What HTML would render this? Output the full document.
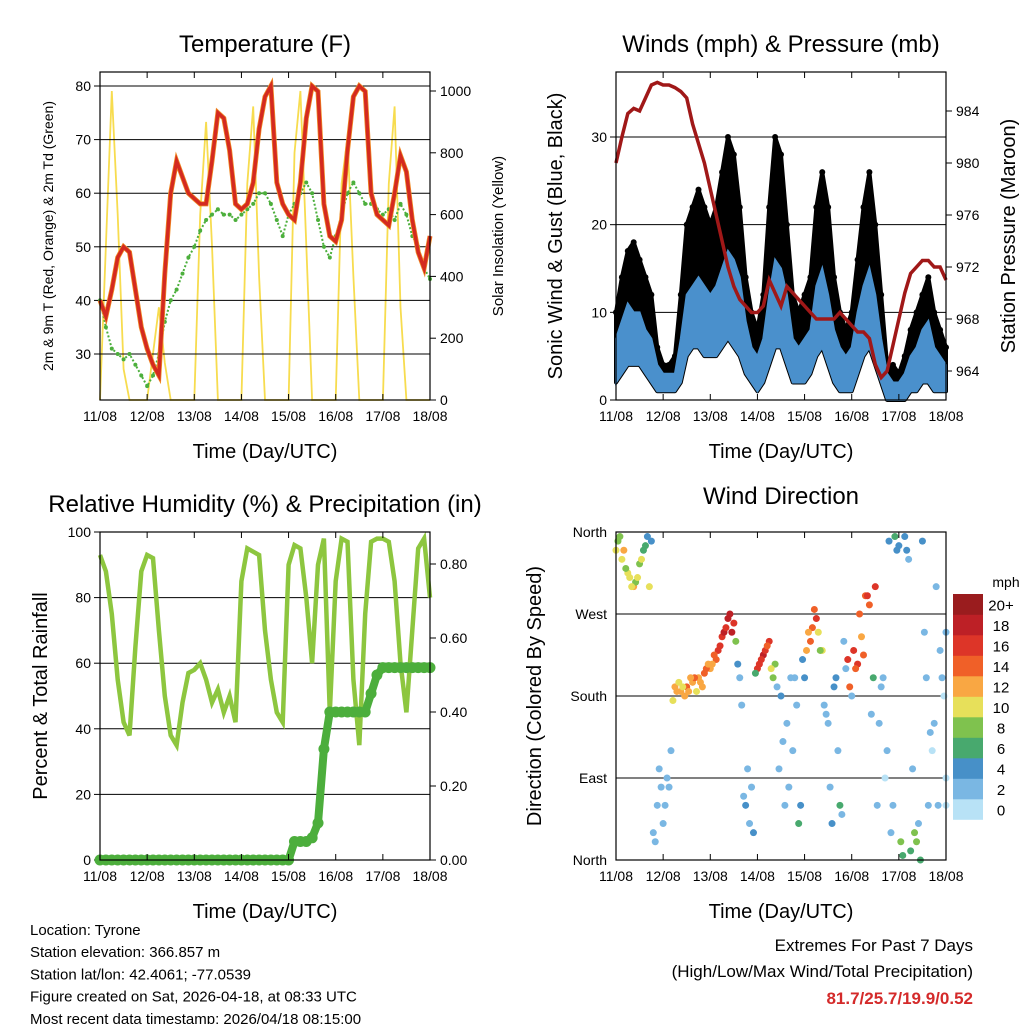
<!DOCTYPE html>
<html><head><meta charset="utf-8"><style>
body{margin:0;background:#fff}
svg{display:block;font-family:"Liberation Sans",sans-serif}
</style></head><body>
<svg id="s" width="1024" height="1024" viewBox="0 0 1024 1024" xmlns="http://www.w3.org/2000/svg"></svg>
<script>
// ---------- DATA (3-hourly, 11/08 00 UTC to 18/08 00 UTC) ----------
const dayLabels = ["11/08","12/08","13/08","14/08","15/08","16/08","17/08","18/08"];
const tempT = [40,37,42,48,50,49,42,35, 31,28,26,45,60,66,63,60, 59,58,58,66,75,74,68,58, 57,58,62,72,78,80,62,58, 56,55,62,74,80,79,58,52, 51,55,68,78,80,79,60,56, 55,54,60,67,64,55,49,46,52];
const tempTd = [40,35,31,30,29,30,28,26, 24,26,30,36,40,42,45,48, 50,53,55,56,57,56,56,55, 56,57,58,60,60,58,55,52, 56,58,60,62,60,55,50,48, 52,56,60,62,60,58,58,57, 56,57,55,58,56,52,50,46,44];
const solar = [0,500,1000,600,100,0,0,0, 0,150,300,120,0,0,0,0, 0,600,900,500,0,0,0,0, 0,700,950,400,0,0,0,0, 0,800,1000,500,0,0,0,0, 0,700,850,400,0,0,0,0, 0,700,950,300,0,0,0,0,0];
const tempTicks = [30,40,50,60,70,80];
const solarTicks = [0,200,400,600,800,1000];
const gustHi = [10,14,17,18,16,14,12,6, 4,4,5,12,20,22,24,22, 20,22,26,30,28,22,14,10, 8,12,22,30,28,20,12,10, 12,14,22,26,22,14,10,8, 10,16,22,26,20,12,4,4, 3,5,8,10,12,14,10,8,6];
const windHi = [7,9,11,10,10,8,7,4, 3,3,3,7,12,13,14,13, 12,13,15,17,16,14,9,6, 5,7,12,16,15,12,7,6, 7,8,13,15,12,8,6,5, 6,10,13,15,12,7,3,2, 2,3,5,6,8,9,6,5,4];
const windLo = [2,3,4,4,4,3,2,1, 1,1,1,2,5,6,6,5, 5,5,6,7,6,5,3,2, 1,2,4,6,6,4,2,2, 2,3,5,6,4,2,1,1, 1,3,5,6,4,2,0,0, 0,0,1,1,2,2,1,1,1];
const pressure = [980,982,983.8,984.2,984,985,986,986.2, 986,986,985.8,985.5,985,983,981.5,980, 978,976,974,972,970.5,969.5,969,968.5, 968.5,969,971,970,969,970.5,970,969.5, 969,968.5,968,968,968,968,968.5,968, 967.5,967,967,966.5,964.5,963.5,964,966, 968,970,971.5,972,972.5,972.5,972,972,971];
const windTicks = [0,10,20,30];
const presTicks = [964,968,972,976,980,984];
const rh = [93,88,75,55,42,38,65,88, 93,92,70,50,38,35,48,57, 58,60,55,48,52,45,50,42, 85,95,94,93,70,55,45,42, 90,96,95,80,60,90,98,45, 85,98,97,55,35,75,97,98, 98,97,85,60,45,70,95,98,80];
const precip = [0,0,0,0,0,0,0,0, 0,0,0,0,0,0,0,0, 0,0,0,0,0,0,0,0, 0,0,0,0,0,0,0,0, 0,0.05,0.05,0.05,0.06,0.10,0.30,0.40, 0.40,0.40,0.40,0.40,0.40,0.40,0.45,0.50, 0.52,0.52,0.52,0.52,0.52,0.52,0.52,0.52,0.52];
const rhTicks = [0,20,40,60,80,100];
const precipTicks = [0,0.2,0.4,0.6,0.8];
const dirA = [340,330,315,300,325,345,350,60, 40,80,190,185,190,195,200,205, 210,220,245,265,260,200,60,80, 210,225,240,215,180,150,120,40, 200,240,265,230,150,190,60,210, 180,215,225,280,300,190,120,60, 345,355,10,20,350,60,150,230,90];
const spdA = [10,11,10,12,8,6,4,3, 2,3,12,13,14,13,12,14, 13,15,16,18,17,3,4,3, 16,18,16,9,4,3,2,6, 4,14,16,10,3,4,6,3, 2,16,15,14,16,2,3,2, 5,4,6,8,5,3,2,2,1];
const dirB = [355,320,300,310,340,300,20,80, 90,175,195,180,200,185,190,215, 225,235,255,250,215,70,40,205, 220,235,200,100,60,200,170,220, 250,275,230,160,40,120,240,190, 210,245,290,200,150,90,30,340, 5,330,30,0,200,120,60,180,250];
const spdB = [8,9,11,10,7,10,3,2, 3,10,11,12,12,11,13,12, 14,16,17,19,4,3,2,6, 17,15,8,3,2,3,2,5, 13,15,9,3,4,2,3,14, 15,13,17,6,2,1,2,4, 7,3,9,6,2,1,2,1,2];
const dirC = [350,340,310,305,330,355,30,100,60,120, 185,190,185,200,195,210,215,230,250,270, 240,170,100,30,215,230,210,190,130,80, 200,60,230,255,250,170,80,200,50,220, 230,270,290,160,60,200,350,355,20,340, 100,40,250,140,300,200,60];
const spdC = [9,12,11,9,10,5,2,2,3,2, 13,11,12,14,12,15,13,17,18,19, 8,2,3,4,17,16,10,3,2,3, 2,5,12,15,11,2,3,4,3,16, 16,15,15,3,2,2,5,6,8,5, 2,3,2,2,3,2,1];
const dirTicks = [0,90,180,270,360];
const dirLabels = ["North","East","South","West","North"];
const spdBins = ["0","2","4","6","8","10","12","14","16","18","20+"];
const spdColors = ["#b8e2f6","#7ab7e3","#4790c8","#48a96e","#7fc24e","#e7e05a","#f9a743","#f06028","#dd3528","#bd2026","#9a1c1e"];

// ---------- helpers ----------
const S = document.getElementById('s');
const NS = "http://www.w3.org/2000/svg";
function mk(tag, attrs, parent, txt){
  const e = document.createElementNS(NS, tag);
  for (const k in attrs) e.setAttribute(k, attrs[k]);
  if (txt !== undefined) e.textContent = txt;
  (parent || S).appendChild(e);
  return e;
}
function lin(d0,d1,r0,r1){ return v => r0 + (v-d0)*(r1-r0)/(d1-d0); }
const N = tempT.length - 1;

function frame(name){
  const g = mk('g', {});
  
  
  return g;
}
function box(g, px, py, pw, ph){
  const r = mk('rect', {x:px, y:py, width:pw, height:ph, fill:'none', stroke:'#000', 'stroke-width':1.2}, g);
  
  
}
function xAxis(g, px, py, pw, ph){
  const xs = lin(0, 7, px, px+pw);
  dayLabels.forEach((l,i)=>{
    const x = xs(i);
    mk('line',{x1:x,y1:py+ph,x2:x,y2:py+ph-6,stroke:'#000'},g);
    mk('line',{x1:x,y1:py,x2:x,y2:py+6,stroke:'#000'},g);
    const t = mk('text',{x:x,y:py+ph+21,'font-size':14,'text-anchor':'middle'},g,l);
    
    
  });
  const tt = mk('text',{x:px+pw/2,y:py+ph+58,'font-size':20,'text-anchor':'middle'},g,'Time (Day/UTC)');
  
  
}
function yTitle(g, x, y, txt, size, name){
  const t = mk('text',{x:x,y:y,'font-size':size,'text-anchor':'middle',transform:`rotate(-90 ${x} ${y})`},g,txt);
  
  
}
function title(g, x, y, txt, name){
  const t = mk('text',{x:x,y:y,'font-size':24,'text-anchor':'middle'},g,txt);
  
  
}
function leftTicks(g, ticks, ys, px, pw, fmt, grid){
  ticks.forEach(v=>{
    const y = ys(v);
    if (grid) mk('line',{x1:px,y1:y,x2:px+pw,y2:y,stroke:'#000','stroke-width':1},g);
    mk('line',{x1:px,y1:y,x2:px-6,y2:y,stroke:'#000'},g);
    const t = mk('text',{x:px-9,y:y+5,'font-size':14,'text-anchor':'end'},g,fmt(v));
    
    
  });
}
function rightTicks(g, ticks, ys, px, fmt){
  ticks.forEach(v=>{
    const y = ys(v);
    mk('line',{x1:px,y1:y,x2:px+6,y2:y,stroke:'#000'},g);
    const t = mk('text',{x:px+10,y:y+5,'font-size':14,'text-anchor':'start'},g,fmt(v));
    
    
  });
}
function pts(arr, xs, ys){ return arr.map((v,i)=>xs(i).toFixed(1)+','+ys(v).toFixed(1)).join(' '); }

// ---------- Panel 1: Temperature ----------
(function(){
  const px=100, py=72, pw=330, ph=328;
  const g = frame('temperature-panel');
  const xs = lin(0, N, px, px+pw);
  const ys = lin(30, 80, 354, 86);
  const ys2 = lin(0, 1000, 400, 91);
  const sl = mk('polyline',{points:pts(solar,xs,ys2),fill:'none',stroke:'#f7dc4f','stroke-width':1.8},g);
  
  
  leftTicks(g, tempTicks, ys, px, pw, v=>v, true);
  rightTicks(g, solarTicks, ys2, px+pw, v=>v);
  const td = mk('g',{},g);
  
  
  mk('polyline',{points:pts(tempTd,xs,ys),fill:'none',stroke:'#4caf3c','stroke-width':2,'stroke-dasharray':'2 2'},td);
  tempTd.forEach((v,i)=>{ mk('circle',{cx:xs(i),cy:ys(v),r:2,fill:'#4caf3c'},td); });
  const t9 = mk('polyline',{points:pts(tempT,xs,ys),fill:'none',stroke:'#f08a24','stroke-width':5},g);
  
  
  const t2 = mk('polyline',{points:pts(tempT,xs,ys),fill:'none',stroke:'#d42a20','stroke-width':3.5},g);
  
  
  box(g,px,py,pw,ph);
  xAxis(g,px,py,pw,ph);
  title(g, px+pw/2, 52, 'Temperature (F)', 'temperature-title');
  yTitle(g, 53, 236, '2m & 9m T (Red, Orange) & 2m Td (Green)', 14, 'temperature-y-title');
  yTitle(g, 503, 236, 'Solar Insolation (Yellow)', 15, 'solar-y-title');
})();

// ---------- Panel 2: Winds & Pressure ----------
(function(){
  const px=616, py=72, pw=330, ph=328;
  const g = frame('winds-panel');
  const xs = lin(0, N, px, px+pw);
  const ys = lin(0, 30, 400, 137);
  const ys2 = lin(964, 984, 371, 111);
  leftTicks(g, windTicks, ys, px, pw, v=>v, true);
  rightTicks(g, presTicks, ys2, px+pw, v=>v);
  const gb = mk('g',{},g);
  
  
  const gustPoly = gustHi.map((v,i)=>xs(i)+','+ys(v)).concat(windLo.map((v,i)=>[i,v]).reverse().map(([i,v])=>xs(i)+','+ys(v))).join(' ');
  mk('polygon',{points:gustPoly,fill:'#000',stroke:'#000','stroke-width':4,'stroke-linejoin':'round'},gb);
  gustHi.forEach((v,i)=>{ mk('circle',{cx:xs(i),cy:ys(v),r:3,fill:'#000'},gb); });
  const wb = mk('g',{},g);
  
  
  const windPoly = windHi.map((v,i)=>xs(i)+','+ys(v)).concat(windLo.map((v,i)=>[i,v]).reverse().map(([i,v])=>xs(i)+','+ys(v))).join(' ');
  mk('polygon',{points:windPoly,fill:'#4a90cc',stroke:'#4a90cc','stroke-width':2},wb);
  const pl = mk('polyline',{points:pts(pressure,xs,ys2),fill:'none',stroke:'#a01818','stroke-width':3.5},g);
  
  
  box(g,px,py,pw,ph);
  xAxis(g,px,py,pw,ph);
  title(g, px+pw/2, 52, 'Winds (mph) & Pressure (mb)', 'winds-title');
  yTitle(g, 562, 236, 'Sonic Wind & Gust (Blue, Black)', 20, 'wind-y-title');
  yTitle(g, 1015, 236, 'Station Pressure (Maroon)', 20, 'pressure-y-title');
})();

// ---------- Panel 3: RH & Precip ----------
(function(){
  const px=100, py=532, pw=330, ph=328;
  const g = frame('humidity-panel');
  const xs = lin(0, N, px, px+pw);
  const ys = lin(0, 100, 860, 532);
  const ys2 = lin(0, 0.8, 860, 564);
  leftTicks(g, rhTicks, ys, px, pw, v=>v, true);
  rightTicks(g, precipTicks, ys2, px+pw, v=>v.toFixed(2));
  const rl = mk('polyline',{points:pts(rh,xs,ys),fill:'none',stroke:'#8dc63f','stroke-width':4.5},g);
  
  
  const pg = mk('g',{},g);
  
  
  mk('polyline',{points:pts(precip,xs,ys2),fill:'none',stroke:'#4cae3c','stroke-width':8},pg);
  precip.forEach((v,i)=>{ mk('circle',{cx:xs(i),cy:ys2(v),r:5.5,fill:'#4cae3c'},pg); });
  box(g,px,py,pw,ph);
  xAxis(g,px,py,pw,ph);
  title(g, 265, 512, 'Relative Humidity (%) & Precipitation (in)', 'humidity-title');
  yTitle(g, 47, 696, 'Percent & Total Rainfall', 20, 'humidity-y-title');
})();

// ---------- Panel 4: Wind Direction ----------
(function(){
  const px=616, py=532, pw=330, ph=328;
  const g = frame('wind-direction-panel');
  const xs = lin(0, N, px, px+pw);
  const ys = lin(0, 360, 860, 532);
  dirTicks.forEach((v,k)=>{
    const y = ys(v);
    mk('line',{x1:px,y1:y,x2:px+pw,y2:y,stroke:'#000'},g);
    const t = mk('text',{x:px-9,y:y+5,'font-size':14,'text-anchor':'end'},g,dirLabels[k]);
    
    
  });
  const colorFor = s => spdColors[Math.max(0,Math.min(10,Math.floor(s/2)))];
  const sg = mk('g',{},g);
  
  
  [[dirA,spdA,0],[dirC,spdC,0.33],[dirB,spdB,0.66]].forEach(([d,s,off])=>{
    d.forEach((v,i)=>{
      const c = mk('circle',{cx:xs(Math.min(N,i+off)),cy:ys(v),r:3.5,fill:colorFor(s[i])},sg);
      
      
    });
  });
  box(g,px,py,pw,ph);
  xAxis(g,px,py,pw,ph);
  title(g, px+pw/2, 504, 'Wind Direction', 'wind-direction-title');
  yTitle(g, 541, 696, 'Direction (Colored By Speed)', 20, 'direction-y-title');
  const cb = mk('g',{},S);
  
  
  const cy0 = 594, ch = 20.5;
  spdBins.forEach((l,k)=>{
    const y = cy0 + (10-k)*ch;
    mk('rect',{x:953,y:y,width:30,height:ch+0.3,fill:spdColors[k]},cb);
    const t = mk('text',{x:1001,y:y+ch/2+6,'font-size':15,'text-anchor':'middle'},cb,l);
    
    
  });
  const u = mk('text',{x:1006,y:587,'font-size':14,'text-anchor':'middle'},cb,'mph');
  
  
})();

// ---------- footer ----------
const info = ["Location: Tyrone","Station elevation: 366.857 m","Station lat/lon: 42.4061; -77.0539","Figure created on Sat, 2026-04-18, at 08:33 UTC","Most recent data timestamp: 2026/04/18 08:15:00"];
info.forEach((l,k)=>{
  const t = mk('text',{x:30,y:935+k*22.2,'font-size':15},S,l);
  
  
});
const e1 = mk('text',{x:973,y:951,'font-size':17,'text-anchor':'end'},S,'Extremes For Past 7 Days');


const e2 = mk('text',{x:973,y:977,'font-size':17,'text-anchor':'end'},S,'(High/Low/Max Wind/Total Precipitation)');


const e3 = mk('text',{x:973,y:1004,'font-size':17,'text-anchor':'end','font-weight':'bold',fill:'#d42a2a'},S,'81.7/25.7/19.9/0.52');


</script>
</body></html>
